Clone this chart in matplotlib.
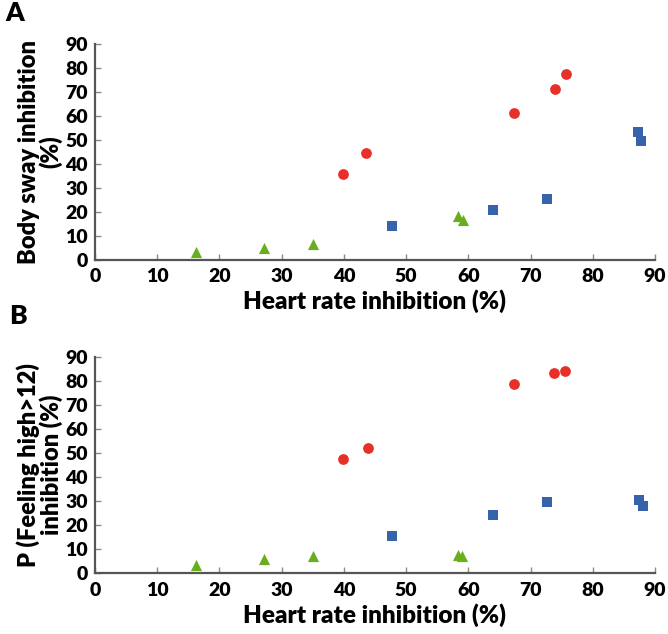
import matplotlib.pyplot as plt

# Panel A: body sway inhibition vs heart rate inhibition
a_red_x = [39.8, 43.6, 67.3, 74.0, 75.7]
a_red_y = [35.7, 44.6, 61.4, 71.3, 77.6]
a_blue_x = [47.7, 63.9, 72.6, 87.3, 87.8]
a_blue_y = [14.0, 20.7, 25.4, 53.2, 49.4]
a_green_x = [16.3, 27.1, 35.1, 58.4, 59.2]
a_green_y = [3.3, 5.0, 6.5, 18.5, 16.5]

# Panel B: P(feeling high > 12) inhibition vs heart rate inhibition
b_red_x = [39.9, 43.8, 67.3, 73.8, 75.6]
b_red_y = [47.6, 52.2, 78.5, 83.1, 84.2]
b_blue_x = [47.7, 64.0, 72.7, 87.5, 88.0]
b_blue_y = [15.6, 24.4, 29.8, 30.3, 28.1]
b_green_x = [16.3, 27.1, 35.1, 58.4, 59.0]
b_green_y = [3.4, 5.9, 7.1, 7.7, 7.4]

ticks = list(range(0, 100, 10))
tick_labels = [str(t) for t in ticks]

plt.rcParams['font.family'] = ['Lato', 'DejaVu Sans']
W = 'heavy'

fig = plt.figure(figsize=(6.68, 6.34), dpi=100)
axA = fig.add_axes([0.1422, 0.5899, 0.8383, 0.3407])
axB = fig.add_axes([0.1422, 0.0957, 0.8383, 0.3417])

red, blue, green = '#e8302a', '#3663aa', '#6aae1f'


def draw(ax, rx, ry, bx, by, gx, gy, ylabel):
    ax.scatter(rx, ry, s=60, marker='o', color=red, zorder=3, clip_on=False, linewidths=0)
    ax.scatter(bx, by, s=55, marker='s', color=blue, zorder=3, clip_on=False, linewidths=0)
    ax.scatter(gx, gy, s=65, marker='^', color=green, zorder=3, clip_on=False, linewidths=0)
    ax.set_xlim(0, 90)
    ax.set_ylim(0, 90)
    ax.set_xticks(ticks)
    ax.set_xticklabels(tick_labels)
    ax.set_yticks(ticks)
    ax.set_yticklabels(tick_labels)
    for s in ['top', 'right']:
        ax.spines[s].set_visible(False)
    for s in ['left', 'bottom']:
        ax.spines[s].set_color('#555555')
        ax.spines[s].set_linewidth(1.6)
    ax.tick_params(direction='in', length=4, width=1, color='#888888', labelsize=14)
    ax.tick_params(axis='x', pad=6)
    ax.tick_params(axis='y', pad=5)
    for lab in ax.get_xticklabels() + ax.get_yticklabels():
        lab.set_fontweight(W)
    ax.set_xlabel('Heart rate inhibition (%)', fontsize=17.5, fontweight=W, labelpad=3)
    ax.set_ylabel(ylabel, fontsize=17, fontweight=W, labelpad=2, linespacing=0.95)


draw(axA, a_red_x, a_red_y, a_blue_x, a_blue_y, a_green_x, a_green_y,
     'Body sway inhibition\n(%)')
draw(axB, b_red_x, b_red_y, b_blue_x, b_blue_y, b_green_x, b_green_y,
     'P (Feeling high>12)\ninhibition (%)')

fig.text(0.008, 0.998, 'A', fontsize=19, fontweight=W, va='top', ha='left')
fig.text(0.014, 0.52, 'B', fontsize=19, fontweight=W, va='top', ha='left')

fig.savefig('out.png', dpi=100)
